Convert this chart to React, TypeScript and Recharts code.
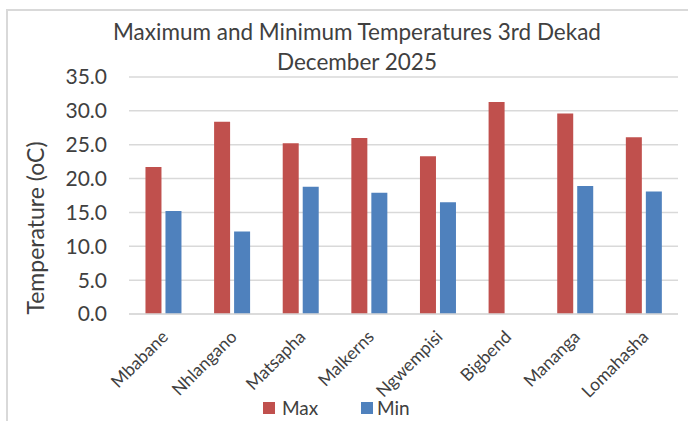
import React from 'react';
import { BarChart, Bar, XAxis, YAxis, CartesianGrid, Legend } from 'recharts';

const stations = ['Mbabane', 'Nhlangano', 'Matsapha', 'Malkerns', 'Ngwempisi', 'Bigbend', 'Mananga', 'Lomahasha'];
const maxTemps = [21.7, 28.4, 25.2, 26.0, 23.3, 31.3, 29.6, 26.1];
const minTemps: (number | null)[] = [15.2, 12.2, 18.8, 17.9, 16.5, null, 18.9, 18.1];
const yTicks = [0, 5, 10, 15, 20, 25, 30, 35];

const data = stations.map((name, i) => ({ name, Max: maxTemps[i], Min: minTemps[i] }));

const FONT = 'Lato, "Open Sans", sans-serif';
const TEXT = '#404040';
const MAX_COLOR = '#C0504D';
const MIN_COLOR = '#4F81BD';

const StationTick = (props: any) => {
  const { x, y, payload } = props;
  const tx = x + 6;
  const ty = y + 22;
  return (
    <text
      x={tx}
      y={ty}
      transform={`rotate(-45, ${tx}, ${ty})`}
      textAnchor="end"
      fontSize={17.5}
      fontFamily={FONT}
      fill={TEXT}
    >
      {payload.value}
    </text>
  );
};

// axis title, placed where the reference has it
const YTitle = () => (
  <text
    x={35}
    y={228}
    transform="rotate(-90, 35, 228)"
    textAnchor="middle"
    dominantBaseline="central"
    fontSize={23}
    fontFamily={FONT}
    fill={TEXT}
  >
    Temperature (oC)
  </text>
);

const LegendBox = () => (
  <div style={{ position: 'relative', height: 24, fontFamily: FONT, fontSize: 19, color: TEXT }}>
    <span style={{ position: 'absolute', left: 263, top: 8, width: 12, height: 12, background: MAX_COLOR }} />
    <span style={{ position: 'absolute', left: 282, top: 2 }}>Max</span>
    <span style={{ position: 'absolute', left: 361, top: 8, width: 12, height: 12, background: MIN_COLOR }} />
    <span style={{ position: 'absolute', left: 377, top: 2 }}>Min</span>
  </div>
);

export default function App() {
  return (
    <div style={{ position: 'absolute', left: 0, top: 0, width: 688, height: 421, background: '#fff', overflow: 'hidden' }}>
      <div
        style={{
          position: 'absolute',
          left: 6,
          top: 9,
          width: 700,
          height: 420,
          borderLeft: '2px solid #d9d9d9',
          borderTop: '2px solid #d9d9d9',
        }}
      />
      <div
        style={{
          position: 'absolute',
          left: 0,
          width: 714,
          top: 17,
          textAlign: 'center',
          fontFamily: FONT,
          fontSize: 22.5,
          lineHeight: '30px',
          color: TEXT,
        }}
      >
        Maximum and Minimum Temperatures 3rd Dekad
        <br />
        December 2025
      </div>
      <BarChart
        width={688}
        height={421}
        data={data}
        margin={{ top: 77, right: 10, bottom: 0, left: 0 }}
        barCategoryGap="24%"
        barGap={4}
      >
        <CartesianGrid vertical={false} stroke="#d9d9d9" strokeWidth={1.5} />
        <XAxis
          dataKey="name"
          height={107}
          interval={0}
          tickLine={false}
          axisLine={{ stroke: '#d9d9d9', strokeWidth: 1.5 }}
          tickSize={0}
          tick={<StationTick />}
        />
        <YAxis
          width={129}
          domain={[0, 35]}
          ticks={yTicks}
          tickFormatter={(v: number) => v.toFixed(1)}
          axisLine={false}
          tickLine={false}
          tickSize={0}
          tickMargin={22}
          tick={{ fontSize: 21, fontFamily: FONT, fill: TEXT }}
          label={<YTitle />}
        />
        <Legend
          verticalAlign="middle"
          align="center"
          wrapperStyle={{ top: 394, left: 0, width: 688 }}
          content={<LegendBox />}
        />
        <Bar dataKey="Max" fill={MAX_COLOR} isAnimationActive={false} />
        <Bar dataKey="Min" fill={MIN_COLOR} isAnimationActive={false} />
      </BarChart>
    </div>
  );
}
